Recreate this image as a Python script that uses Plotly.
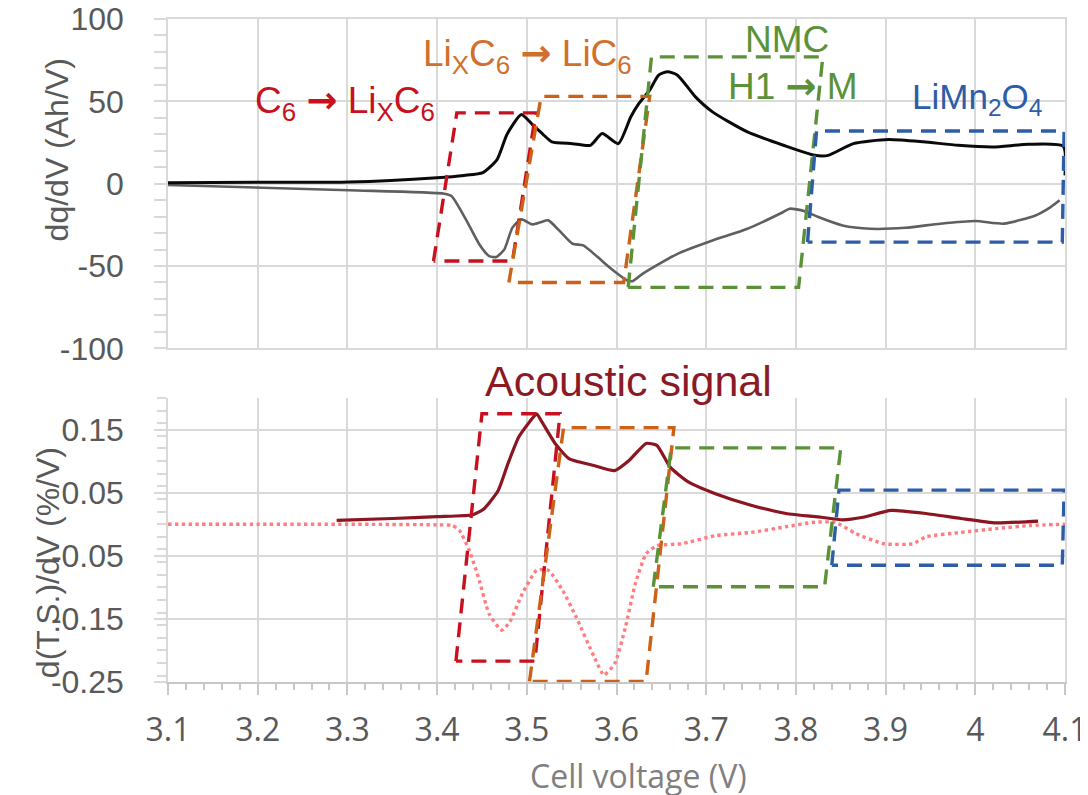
import plotly.graph_objects as go

# ---------------- data ----------------
# Top panel: differential capacity dq/dV (Ah/V)
v_dq_charge = [3.100, 3.200, 3.302, 3.400, 3.430, 3.451, 3.467, 3.478, 3.494, 3.506, 3.518,
               3.528, 3.551, 3.571, 3.584, 3.602, 3.616, 3.625, 3.637, 3.647, 3.657, 3.668,
               3.688, 3.707, 3.746, 3.786, 3.821, 3.836, 3.864, 3.903, 3.942, 3.981, 4.020,
               4.059, 4.098, 4.100]
dq_charge = [0.5, 0.8, 1.0, 3.6, 5.0, 6.7, 14.8, 30.0, 42.0, 36.0, 30.0,
             25.4, 24.3, 23.3, 30.4, 24.3, 40.6, 48.7, 56.8, 65.9, 68.0, 65.9,
             52.7, 43.6, 31.4, 23.3, 17.2, 17.2, 24.3, 26.8, 25.4, 23.3, 22.3,
             23.9, 22.7, 5.0]

v_dq_discharge = [3.100, 3.302, 3.408, 3.416, 3.431, 3.447, 3.458, 3.466, 3.475, 3.484, 3.494,
                  3.506, 3.515, 3.524, 3.536, 3.551, 3.563, 3.579, 3.594, 3.612, 3.618, 3.629,
                  3.668, 3.707, 3.746, 3.786, 3.793, 3.809, 3.825, 3.852, 3.883, 3.922, 3.961,
                  4.000, 4.032, 4.067, 4.084, 4.094]
dq_discharge = [-0.8, -4.0, -6.1, -7.5, -20.6, -36.8, -44.0, -44.5, -39.9, -26.7, -21.7,
                -24.7, -23.5, -22.3, -28.4, -36.5, -37.5, -44.6, -51.7, -58.8, -59.2, -54.8,
                -42.6, -34.5, -27.4, -17.2, -15.2, -16.6, -20.3, -25.4, -27.4, -26.8, -24.3,
                -22.7, -24.3, -19.3, -14.2, -10.1]

# Bottom panel: acoustic signal d(T.S.)/dV (%/V)
v_ac_charge = [3.288, 3.350, 3.400, 3.440, 3.452, 3.468, 3.479, 3.491, 3.503, 3.511, 3.516,
               3.532, 3.547, 3.575, 3.598, 3.614, 3.633, 3.645, 3.660, 3.680, 3.711, 3.750,
               3.789, 3.828, 3.852, 3.875, 3.906, 3.945, 3.984, 4.023, 4.070]
ac_charge = [0.006, 0.009, 0.012, 0.015, 0.024, 0.053, 0.096, 0.138, 0.162, 0.175, 0.164,
             0.127, 0.104, 0.093, 0.085, 0.101, 0.128, 0.125, 0.090, 0.067, 0.048, 0.030,
             0.017, 0.011, 0.007, 0.011, 0.022, 0.017, 0.009, 0.002, 0.005]

v_ac_discharge = [3.100, 3.200, 3.300, 3.400, 3.417, 3.425, 3.436, 3.446, 3.458, 3.472, 3.481,
                  3.495, 3.511, 3.524, 3.540, 3.555, 3.575, 3.586, 3.598, 3.610, 3.621, 3.633,
                  3.645, 3.672, 3.711, 3.750, 3.789, 3.820, 3.844, 3.867, 3.898, 3.930, 3.945,
                  3.984, 4.023, 4.062, 4.100]
ac_discharge = [0.000, 0.000, 0.000, -0.001, -0.002, -0.010, -0.042, -0.084, -0.142, -0.168, -0.155,
                -0.110, -0.073, -0.073, -0.105, -0.147, -0.210, -0.239, -0.221, -0.163, -0.094, -0.047,
                -0.034, -0.031, -0.018, -0.013, -0.004, 0.003, 0.003, -0.015, -0.031, -0.031, -0.020,
                -0.013, -0.007, -0.002, 0.000]

# Phase-transition regions (dashed parallelograms): corners as (voltage, value)
box_names = ["graphite1", "graphite2", "nmc", "lmo"]
box_colors = ["#C8101E", "#CC6218", "#5B9237", "#2E5DA8"]
top_box_v = [[3.396, 3.422, 3.510, 3.484, 3.396],
             [3.480, 3.516, 3.637, 3.608, 3.480],
             [3.613, 3.639, 3.830, 3.803, 3.613],
             [3.813, 3.823, 4.099, 4.097, 3.813]]
top_box_y = [[-47, 43, 43, -47, -47],
             [-60, 53, 53, -60, -60],
             [-63, 77, 77, -63, -63],
             [-35.5, 32, 32, -35.5, -35.5]]
bot_box_v = [[3.421, 3.450, 3.537, 3.509, 3.421],
             [3.503, 3.541, 3.664, 3.633, 3.503],
             [3.641, 3.661, 3.850, 3.832, 3.641],
             [3.840, 3.848, 4.099, 4.097, 3.840]]
bot_box_y = [[-0.217, 0.175, 0.175, -0.217, -0.217],
             [-0.249, 0.153, 0.153, -0.249, -0.249],
             [-0.099, 0.121, 0.121, -0.099, -0.099],
             [-0.065, 0.054, 0.054, -0.065, -0.065]]

x_ticks = [3.1, 3.2, 3.3, 3.4, 3.5, 3.6, 3.7, 3.8, 3.9, 4.0, 4.1]
x_tick_labels = ["3.1", "3.2", "3.3", "3.4", "3.5", "3.6", "3.7", "3.8", "3.9", "4", "4.1"]
top_y_ticks = [-100, -50, 0, 50, 100]
top_y_labels = ["-100", "-50", "0", "50", "100"]
bot_y_ticks = [-0.25, -0.15, -0.05, 0.05, 0.15]
bot_y_labels = ["-0.25", "-0.15", "-0.05", "0.05", "0.15"]

# ---------------- figure ----------------
fig = go.Figure()

fig.add_trace(go.Scatter(x=v_dq_discharge, y=dq_discharge, mode="lines",
                         line=dict(color="#5f5f5f", width=2.6, shape="spline", smoothing=0.6),
                         xaxis="x", yaxis="y", hoverinfo="skip"))
fig.add_trace(go.Scatter(x=v_dq_charge, y=dq_charge, mode="lines",
                         line=dict(color="#0a0a0a", width=3, shape="spline", smoothing=0.6),
                         xaxis="x", yaxis="y", hoverinfo="skip"))
fig.add_trace(go.Scatter(x=v_ac_discharge, y=ac_discharge, mode="lines",
                         line=dict(color="#FF7C80", width=3.4, dash="dot", shape="spline", smoothing=0.5),
                         xaxis="x2", yaxis="y2", hoverinfo="skip"))
fig.add_trace(go.Scatter(x=v_ac_charge, y=ac_charge, mode="lines",
                         line=dict(color="#8B1520", width=3.2, shape="spline", smoothing=0.5),
                         xaxis="x2", yaxis="y2", hoverinfo="skip"))

for i, name in enumerate(box_names):
    fig.add_trace(go.Scatter(x=top_box_v[i], y=top_box_y[i], mode="lines", name=name,
                             line=dict(color=box_colors[i], width=3.4, dash="15px,9px"),
                             xaxis="x", yaxis="y", hoverinfo="skip"))
    fig.add_trace(go.Scatter(x=bot_box_v[i], y=bot_box_y[i], mode="lines", name=name,
                             line=dict(color=box_colors[i], width=3.4, dash="15px,9px"),
                             xaxis="x2", yaxis="y2", hoverinfo="skip"))

grid = "#d9d9d9"
yfont = dict(family="Liberation Sans, Arial", size=32, color="#595959")
xfont = dict(family="Open Sans", size=32, color="#595959")

# the page adds an 8 px body margin, so margins are offset by 8 px
fig.update_layout(
    width=1088, height=795,
    margin=dict(l=160, r=31, t=11, b=121, autoexpand=False),
    paper_bgcolor="white", plot_bgcolor="white",
    showlegend=False,
    xaxis=dict(domain=[0, 1], range=[3.1, 4.1], anchor="y", tickvals=x_ticks, automargin=False,
               showticklabels=False, showgrid=True, gridcolor=grid, gridwidth=1.5,
               showline=True, linecolor=grid, linewidth=1.5, mirror=True, zeroline=False,
               ticks=""),
    yaxis=dict(domain=[0.5033, 1.0], range=[-100, 100], anchor="x", tickvals=top_y_ticks,
               ticktext=top_y_labels, automargin=False, ticklabeloverflow="allow",
               tickfont=yfont, showgrid=True, gridcolor=grid, gridwidth=1.5,
               showline=True, linecolor=grid, linewidth=1.5, mirror=True, zeroline=False,
               ticks="outside", ticklen=12, tickcolor=grid, tickwidth=1.5,
               ticklabelstandoff=24,
               minor=dict(dtick=10, ticks="outside", ticklen=12, tickcolor=grid, showgrid=False)),
    xaxis2=dict(domain=[0, 1], range=[3.1, 4.1], anchor="y2", tickvals=x_ticks, automargin=False,
                ticktext=x_tick_labels, tickfont=xfont, showgrid=True, gridcolor=grid,
                ticklabeloverflow="allow",
                gridwidth=1.5, showline=True, linecolor="#c8c8c8", linewidth=1.5,
                zeroline=False, ticks="outside", ticklen=11, tickcolor="#c8c8c8", tickwidth=1.5,
                ticklabelstandoff=8,
                minor=dict(dtick=0.02, ticks="outside", ticklen=6, tickcolor="#c8c8c8", showgrid=False)),
    yaxis2=dict(domain=[0, 0.4284], range=[-0.25, 0.2], anchor="x2", tickvals=bot_y_ticks,
                ticktext=bot_y_labels, tickfont=yfont, showgrid=True, gridcolor=grid, automargin=False,
                ticklabeloverflow="allow",
                gridwidth=1.5, showline=True, linecolor=grid, linewidth=1.5, mirror=True,
                zeroline=False, ticks="outside", ticklen=12, tickcolor=grid, tickwidth=1.5,
                ticklabelstandoff=24,
                minor=dict(dtick=0.02, ticks="outside", ticklen=9, tickcolor=grid, showgrid=False)),
)

afont = "Liberation Sans, Arial"
arrow = "<span style='font-family:DejaVu Sans;font-weight:bold'>→</span>"
annots = [
    dict(text="C<sub>6</sub> " + arrow + " Li<sub>X</sub>C<sub>6</sub>", x=3.2975, y=49.5, xref="x", yref="y",
         font=dict(family=afont, size=37, color="#C8101E")),
    dict(text="Li<sub>X</sub>C<sub>6</sub> " + arrow + " LiC<sub>6</sub>", x=3.501, y=77.7, xref="x", yref="y",
         font=dict(family=afont, size=37, color="#D0702C")),
    dict(text="NMC", x=3.79, y=87.4, xref="x", yref="y",
         font=dict(family=afont, size=37, color="#5B9237")),
    dict(text="H1 " + arrow + " M", x=3.797, y=59.1, xref="x", yref="y",
         font=dict(family=afont, size=37, color="#5B9237")),
    dict(text="LiMn<sub>2</sub>O<sub>4</sub>", x=4.002, y=51.5, xref="x", yref="y",
         font=dict(family=afont, size=35, color="#2E5DA8")),
    dict(text="Acoustic signal", x=0.513, y=0.454, xref="paper", yref="paper",
         font=dict(family=afont, size=43, color="#8B1A24")),
    dict(text="dq/dV (Ah/V)", x=-0.1236, y=0.802, xref="paper", yref="paper", textangle=-90,
         font=dict(family=afont, size=32, color="#595959")),
    dict(text="d(T.S.)/dV (%/V)", x=-0.1336, y=0.1795, xref="paper", yref="paper", textangle=-90,
         font=dict(family=afont, size=32, color="#595959")),
    dict(text="Cell voltage (V)", x=0.5245, y=-0.141, xref="paper", yref="paper",
         font=dict(family="Open Sans", size=32, color="#808080")),
]
for a in annots:
    a.update(showarrow=False, xanchor="center", yanchor="middle")
fig.update_layout(annotations=annots)

fig.write_html("out.html")
